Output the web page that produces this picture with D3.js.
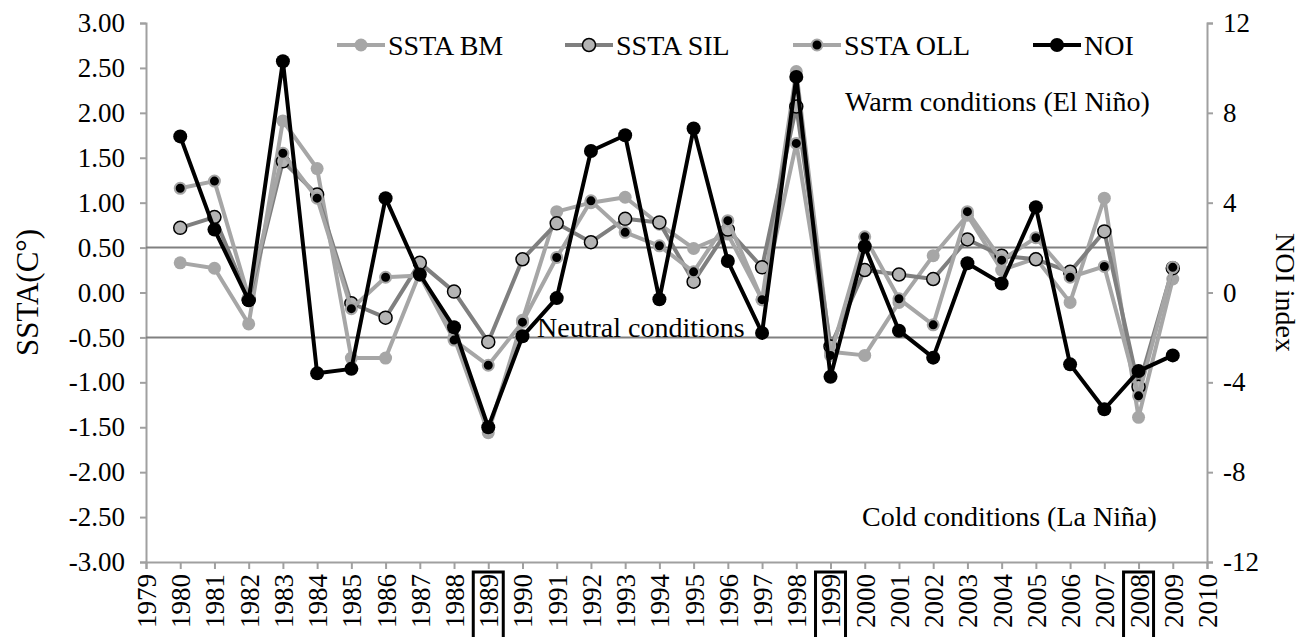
<!DOCTYPE html>
<html>
<head>
<meta charset="utf-8">
<script src="https://cdn.jsdelivr.net/npm/d3@7"></script>
<style>
  body { margin: 0; background: #fff; }
  text { font-family: "Liberation Serif", "Times New Roman", serif; fill: #000; }
</style>
</head>
<body>
<script>
var WIDTH = 1304;
var HEIGHT = 637;

// data
var years = d3.range(1980, 2010);
var ssta_bm  = [0.33,0.27,-0.35,1.91,1.38,-0.73,-0.73,0.22,-0.50,-1.56,-0.31,0.90,1.00,1.06,0.76,0.49,0.65,-0.08,2.46,-0.66,-0.70,-0.11,0.41,0.86,0.25,0.38,-0.11,1.05,-1.39,0.15];
var ssta_sil = [0.72,0.84,-0.08,1.46,1.09,-0.12,-0.28,0.33,0.01,-0.55,0.37,0.77,0.56,0.82,0.78,0.12,0.70,0.28,2.07,-0.60,0.25,0.20,0.15,0.59,0.41,0.37,0.23,0.68,-1.05,0.27];
var ssta_oll = [1.16,1.24,-0.05,1.55,1.05,-0.18,0.17,0.19,-0.53,-0.81,-0.33,0.39,1.02,0.67,0.52,0.23,0.80,-0.08,1.66,-0.70,0.62,-0.07,-0.36,0.90,0.36,0.61,0.17,0.29,-1.15,0.28];
var noi      = [6.95,2.8,-0.35,10.3,-3.6,-3.4,4.2,0.8,-1.55,-6.0,-1.95,-0.25,6.3,7.0,-0.3,7.3,1.4,-1.8,9.6,-3.75,2.05,-1.7,-2.9,1.3,0.4,3.8,-3.2,-5.2,-3.5,-2.8];

var xTicks = d3.range(1979, 2011);
var leftTicks = d3.range(-3, 3.01, 0.5);
var rightTicks = [-12, -8, -4, 0, 4, 8, 12];
var boxedYears = [1989, 1999, 2008];
var neutralBand = [0.5, -0.5];

var plotLeft = 146, plotRight = 1207, plotTop = 23, plotBottom = 562;

var svg = d3.select("body").append("svg")
  .attr("width", WIDTH)
  .attr("height", HEIGHT);

var x = d3.scaleLinear().domain([1979, 2010]).range([plotLeft, plotRight]);
var y = d3.scaleLinear().domain([-3, 3]).range([plotBottom, plotTop]);
var y2 = d3.scaleLinear().domain([-12, 12]).range([plotBottom, plotTop]);

// axes
var axisColor = "#a0a0a0";

var gl = svg.append("g")
  .attr("transform", "translate(" + plotLeft + ",0)")
  .call(d3.axisLeft(y).tickValues(leftTicks).tickSize(6).tickPadding(15)
    .tickFormat(function (d) { return d.toFixed(2); }));

var gr = svg.append("g")
  .attr("transform", "translate(" + plotRight + ",0)")
  .call(d3.axisRight(y2).tickValues(rightTicks).tickSize(6).tickPadding(10)
    .tickFormat(function (d) { return String(d); }));

var gx = svg.append("g")
  .attr("transform", "translate(0," + plotBottom + ")")
  .call(d3.axisBottom(x).tickValues(xTicks).tickSize(7).tickFormat(d3.format("d")));

[gl, gr, gx].forEach(function (g) {
  g.attr("font-family", null);
  g.select(".domain").attr("stroke", axisColor).attr("stroke-width", 2);
  g.selectAll(".tick line").attr("stroke", axisColor).attr("stroke-width", 2);
  g.selectAll(".tick text")
    .style("font-family", "Liberation Serif")
    .style("font-size", "27px")
    .attr("fill", "#000");
});

gx.selectAll(".tick text")
  .attr("transform", "rotate(-90)")
  .attr("x", -12)
  .attr("y", 0)
  .attr("dy", "0.35em")
  .style("font-size", "27px")
  .style("text-anchor", "end");

// boxes around some years
svg.selectAll("rect.box")
  .data(boxedYears)
  .enter()
  .append("rect")
  .attr("class", "box")
  .attr("x", function (d) { return x(d) - 15; })
  .attr("y", 572)
  .attr("width", 30)
  .attr("height", 70)
  .attr("fill", "none")
  .attr("stroke", "#000")
  .attr("stroke-width", 3);

// neutral band lines
svg.selectAll("line.band")
  .data(neutralBand)
  .enter()
  .append("line")
  .attr("x1", plotLeft)
  .attr("x2", plotRight)
  .attr("y1", function (d) { return y(d); })
  .attr("y2", function (d) { return y(d); })
  .attr("stroke", "#808080")
  .attr("stroke-width", 2);

// annotations
svg.append("text").attr("x", 845).attr("y", 111).style("font-size", "28px").text("Warm conditions (El Niño)");
svg.append("text").attr("x", 537).attr("y", 337).style("font-size", "28px").text("Neutral conditions");
svg.append("text").attr("x", 862).attr("y", 526).style("font-size", "28px").text("Cold conditions (La Niña)");

// axis titles
svg.append("text")
  .attr("transform", "translate(38," + y(0) + ") rotate(-90)")
  .style("text-anchor", "middle")
  .style("font-size", "31px")
  .text("SSTA(C°)");

svg.append("text")
  .attr("transform", "translate(1276," + y(0) + ") rotate(90)")
  .style("text-anchor", "middle")
  .style("font-size", "28px")
  .text("NOI index");

// series
var series = [
  { name: "SSTA BM",  vals: ssta_bm,  scale: y,  line: "#a6a6a6", fill: "#a6a6a6", stroke: "#a6a6a6", r: 6.5, sw: 0 },
  { name: "SSTA SIL", vals: ssta_sil, scale: y,  line: "#7f7f7f", fill: "#b4b4b4", stroke: "#000", r: 6.5, sw: 1.5 },
  { name: "SSTA OLL", vals: ssta_oll, scale: y,  line: "#a6a6a6", fill: "#000", stroke: "#a6a6a6", r: 5.5, sw: 2 },
  { name: "NOI",      vals: noi,      scale: y2, line: "#000", fill: "#000", stroke: "#000", r: 7, sw: 0 }
];

series.forEach(function (s) {
  var pts = years.map(function (yr, i) { return { x: yr, v: s.vals[i] }; });
  var line = d3.line()
    .x(function (d) { return x(d.x); })
    .y(function (d) { return s.scale(d.v); });

  svg.append("path")
    .datum(pts)
    .attr("d", line)
    .attr("fill", "none")
    .attr("stroke", s.line)
    .attr("stroke-width", 4)
    .attr("stroke-linejoin", "round");

  svg.append("g").selectAll("circle")
    .data(pts)
    .enter()
    .append("circle")
    .attr("cx", function (d) { return x(d.x); })
    .attr("cy", function (d) { return s.scale(d.v); })
    .attr("r", s.r)
    .attr("fill", s.fill)
    .attr("stroke", s.stroke)
    .attr("stroke-width", s.sw);
});

// legend
var legendX = [337, 565, 793, 1033];
var legend = svg.append("g");
series.forEach(function (s, i) {
  var lx = legendX[i];
  legend.append("line")
    .attr("x1", lx).attr("x2", lx + 48)
    .attr("y1", 45).attr("y2", 45)
    .attr("stroke", s.line)
    .attr("stroke-width", 4);
  legend.append("circle")
    .attr("cx", lx + 24).attr("cy", 45)
    .attr("r", s.r)
    .attr("fill", s.fill)
    .attr("stroke", s.stroke)
    .attr("stroke-width", s.sw);
  legend.append("text")
    .attr("x", lx + 51).attr("y", 55)
    .style("font-size", "28px")
    .text(s.name);
});
</script>
</body>
</html>
